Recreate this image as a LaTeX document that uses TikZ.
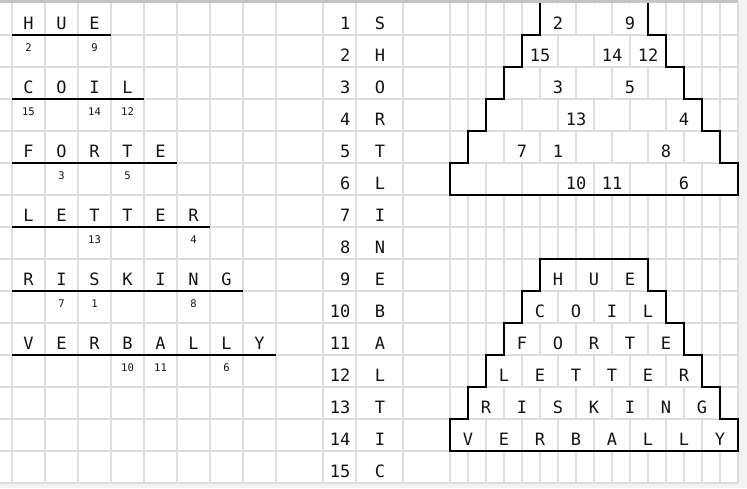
\documentclass[tikz,border=0pt]{standalone}
\usepackage{fontspec}
\setmonofont{DejaVu Sans Mono}
\definecolor{gridgray}{RGB}{222,222,222}
\definecolor{headgray}{RGB}{196,196,196}
\definecolor{outgray}{RGB}{243,243,243}
\definecolor{ink}{RGB}{20,20,20}
\begin{document}
\begin{tikzpicture}[x=1pt,y=-1pt,
  big/.style={inner sep=0pt,anchor=base,text=ink,font=\ttfamily\fontsize{17}{19}\selectfont},
  bignum/.style={inner sep=0pt,anchor=base east,text=ink,font=\ttfamily\fontsize{17}{19}\selectfont},
  small/.style={inner sep=0pt,anchor=base,text=ink,font=\ttfamily\fontsize{10.5}{12}\selectfont},
  gridline/.style={draw=gridgray,line width=1.6pt},
  uline/.style={draw=black,line width=2pt},
  outline/.style={draw=black,line width=2.2pt,line join=miter}]
\useasboundingbox (0,0) rectangle (747,488);
\fill[white] (0,0) rectangle (747,488);
\fill[outgray] (738,0) rectangle (747,488);
\fill[outgray] (0,483) rectangle (747,488);
% grid
\foreach \x in {12,45,78,111,144,177,210,243,276,323,356,403,450,468,486,504,522,540,558,576,594,612,630,648,666,684,702,720,738}
  \draw[gridline] (\x,3) -- (\x,483);
\foreach \k in {1,...,15}
  \draw[gridline] (0,3+32*\k) -- (738,3+32*\k);
\fill[headgray] (0,0) rectangle (738,2.8);
% pyramid merged cells
\foreach \k in {0,...,5}{
  \pgfmathsetmacro{\L}{540-18*\k}
  \pgfmathsetmacro{\R}{648+18*\k}
  \pgfmathtruncatemacro{\n}{2+\k}
  \foreach \T in {3,259}{
    \fill[white] (\L+0.8,\T+32*\k+0.8) rectangle (\R-0.8,\T+32*\k+31.2);
    \foreach \j in {1,...,\n}
      \draw[gridline] (\L+36*\j,\T+32*\k) -- (\L+36*\j,\T+32*\k+32);
  }
}
% left words
\foreach \c [count=\i from 0] in {H,U,E} \node[big] (a\i) at (28.5+33*\i,29) {\c};
\foreach \c [count=\i from 0] in {C,O,I,L} \node[big] (b\i) at (28.5+33*\i,93) {\c};
\foreach \c [count=\i from 0] in {F,O,R,T,E} \node[big] (c\i) at (28.5+33*\i,157) {\c};
\foreach \c [count=\i from 0] in {L,E,T,T,E,R} \node[big] (d\i) at (28.5+33*\i,221) {\c};
\foreach \c [count=\i from 0] in {R,I,S,K,I,N,G} \node[big] (e\i) at (28.5+33*\i,285) {\c};
\foreach \c [count=\i from 0] in {V,E,R,B,A,L,L,Y} \node[big] (f\i) at (28.5+33*\i,349) {\c};
\draw[uline] (12,35) -- (111,35);
\draw[uline] (12,99) -- (144,99);
\draw[uline] (12,163) -- (177,163);
\draw[uline] (12,227) -- (210,227);
\draw[uline] (12,291) -- (243,291);
\draw[uline] (12,355) -- (276,355);
% left numbers
\foreach \p/\v [count=\i] in {0/2,2/9} \node[small] (na\i) at (28.5+33*\p,51) {\v};
\foreach \p/\v [count=\i] in {0/15,2/14,3/12} \node[small] (nb\i) at (28.5+33*\p,115) {\v};
\foreach \p/\v [count=\i] in {1/3,3/5} \node[small] (nc\i) at (28.5+33*\p,179) {\v};
\foreach \p/\v [count=\i] in {2/13,5/4} \node[small] (nd\i) at (28.5+33*\p,243) {\v};
\foreach \p/\v [count=\i] in {1/7,2/1,5/8} \node[small] (ne\i) at (28.5+33*\p,307) {\v};
\foreach \p/\v [count=\i] in {3/10,4/11,6/6} \node[small] (nf\i) at (28.5+33*\p,371) {\v};
% middle list
\foreach \c [count=\i] in {S,H,O,R,T,L,I,N,E,B,A,L,T,I,C}{
  \node[bignum] (m\i) at (350.5,-3+32*\i) {\i};
  \node[big] (ml\i) at (380,-3+32*\i) {\c};
}
% top pyramid numbers
\foreach \x/\v [count=\i] in {558/2,630/9} \node[big] (ta\i) at (\x,29) {\v};
\foreach \x/\v [count=\i] in {540/15,612/14,648/12} \node[big] (tb\i) at (\x,61) {\v};
\foreach \x/\v [count=\i] in {558/3,630/5} \node[big] (tc\i) at (\x,93) {\v};
\foreach \x/\v [count=\i] in {576/13,684/4} \node[big] (td\i) at (\x,125) {\v};
\foreach \x/\v [count=\i] in {522/7,558/1,666/8} \node[big] (te\i) at (\x,157) {\v};
\foreach \x/\v [count=\i] in {576/10,612/11,684/6} \node[big] (tf\i) at (\x,189) {\v};
\draw[outline] (540,3) -- (540,35) -- (522,35) -- (522,67) -- (504,67) -- (504,99)
  -- (486,99) -- (486,131) -- (468,131) -- (468,163) -- (450,163) -- (450,195)
  -- (738,195) -- (738,163) -- (720,163) -- (720,131) -- (702,131) -- (702,99)
  -- (684,99) -- (684,67) -- (666,67) -- (666,35) -- (648,35) -- (648,3);
% bottom pyramid letters
\foreach \c [count=\i from 0] in {H,U,E} \node[big] (pa\i) at (558+36*\i,285) {\c};
\foreach \c [count=\i from 0] in {C,O,I,L} \node[big] (pb\i) at (540+36*\i,317) {\c};
\foreach \c [count=\i from 0] in {F,O,R,T,E} \node[big] (pc\i) at (522+36*\i,349) {\c};
\foreach \c [count=\i from 0] in {L,E,T,T,E,R} \node[big] (pd\i) at (504+36*\i,381) {\c};
\foreach \c [count=\i from 0] in {R,I,S,K,I,N,G} \node[big] (pe\i) at (486+36*\i,413) {\c};
\foreach \c [count=\i from 0] in {V,E,R,B,A,L,L,Y} \node[big] (pf\i) at (468+36*\i,445) {\c};
\draw[outline] (540,259) -- (648,259) -- (648,291) -- (666,291) -- (666,323) -- (684,323)
  -- (684,355) -- (702,355) -- (702,387) -- (720,387) -- (720,419) -- (738,419)
  -- (738,451) -- (450,451) -- (450,419) -- (468,419) -- (468,387) -- (486,387)
  -- (486,355) -- (504,355) -- (504,323) -- (522,323) -- (522,291) -- (540,291) -- cycle;
\end{tikzpicture}
\end{document}
